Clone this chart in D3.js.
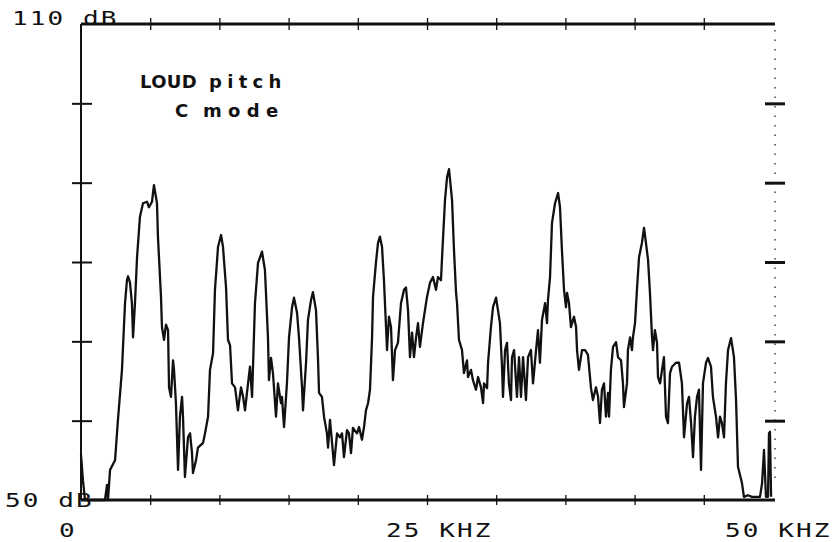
<!DOCTYPE html>
<html>
<head>
<meta charset="utf-8">
<script src="https://cdn.jsdelivr.net/npm/d3@7"></script>
<style>
  html, body { margin: 0; padding: 0; background: #fff; }
  svg { display: block; }
</style>
</head>
<body>
<svg id="chart" width="839" height="542"></svg>
<script>
// ---- data ----
const freqKHz = [0,0.14,0.29,1.73,1.88,1.95,2.10,2.46,2.67,2.96,3.18,3.32,3.40,3.54,3.68,3.76,3.90,4.05,4.26,4.48,4.77,4.91,5.13,5.27,5.49,5.56,5.78,5.85,6.00,6.14,6.29,6.36,6.50,6.65,6.72,6.86,7.01,7.15,7.30,7.37,7.51,7.73,7.88,8.02,8.09,8.31,8.45,8.82,8.96,9.18,9.32,9.54,9.68,9.90,10.12,10.26,10.48,10.62,10.77,10.91,11.13,11.34,11.56,11.71,11.85,12.07,12.21,12.36,12.57,12.79,13.08,13.29,13.51,13.58,13.73,13.87,14.09,14.23,14.45,14.52,14.67,14.88,15.03,15.25,15.39,15.61,15.75,15.97,16.04,16.26,16.40,16.62,16.76,16.98,17.12,17.20,17.41,17.56,17.77,17.85,17.99,18.14,18.28,18.50,18.71,18.86,19.00,19.22,19.36,19.51,19.65,19.94,20.09,20.30,20.45,20.59,20.74,20.88,21.03,21.10,21.31,21.46,21.60,21.75,21.89,22.04,22.11,22.25,22.40,22.54,22.69,22.90,23.12,23.34,23.48,23.63,23.77,23.92,24.06,24.21,24.35,24.49,24.71,25.00,25.22,25.43,25.65,25.79,26.01,26.08,26.30,26.45,26.59,26.81,26.95,27.10,27.17,27.31,27.53,27.67,27.89,27.96,28.18,28.32,28.54,28.69,28.90,29.05,29.12,29.34,29.41,29.62,29.77,29.99,30.13,30.27,30.42,30.49,30.64,30.78,30.92,31.07,31.14,31.29,31.50,31.65,31.79,31.94,32.15,32.30,32.51,32.66,32.88,33.02,33.16,33.31,33.53,33.67,33.74,33.89,34.03,34.25,34.47,34.61,34.75,34.90,35.04,35.12,35.26,35.40,35.62,35.77,35.84,35.98,36.20,36.42,36.63,36.85,36.99,37.21,37.36,37.50,37.64,37.79,37.93,38.08,38.15,38.29,38.44,38.66,38.80,39.02,39.16,39.23,39.45,39.52,39.67,39.81,39.88,40.03,40.17,40.32,40.53,40.68,40.82,40.97,41.11,41.26,41.33,41.47,41.62,41.69,41.84,41.98,42.12,42.27,42.41,42.56,42.70,42.99,43.21,43.42,43.57,43.79,43.93,44.08,44.22,44.36,44.51,44.65,44.80,44.94,45.16,45.30,45.52,45.66,45.88,46.03,46.17,46.31,46.46,46.60,46.75,46.97,47.18,47.33,47.47,47.76,47.90,48.19,48.48,49.06,49.21,49.35,49.49,49.64,49.71,49.78,49.86];
const levelDB = [55.7,52.5,50.0,50.0,51.9,50.0,53.8,55.0,60.1,66.4,74.8,77.7,78.2,77.4,74.8,70.5,74.8,80.6,85.7,87.4,87.6,86.9,87.6,89.7,87.4,83.2,75.6,71.8,70.2,72.1,71.4,64.2,63.0,67.6,66.4,62.2,53.8,60.5,63.0,60.5,52.9,57.9,58.4,55.9,53.4,55.0,56.6,57.2,58.4,60.5,66.4,68.5,76.5,81.9,83.4,81.9,76.8,70.2,69.5,64.7,64.2,61.3,64.2,63.0,61.3,64.7,66.8,63.0,74.8,79.9,81.3,79.0,70.5,65.1,67.9,66.0,60.5,64.7,62.2,63.0,59.2,64.7,70.5,74.3,75.5,73.6,70.5,64.2,61.3,67.3,72.7,75.2,76.2,73.9,68.0,63.5,63.0,60.5,58.4,56.6,60.1,57.2,54.4,58.4,57.9,58.4,55.4,58.8,58.4,55.9,59.1,58.4,59.2,57.6,59.2,61.3,62.2,63.9,70.5,75.6,79.9,82.4,83.2,81.9,77.7,71.8,68.9,73.1,71.8,65.1,68.9,69.8,74.8,76.5,76.8,73.9,68.0,71.1,68.0,70.5,72.3,69.3,72.3,75.6,77.4,78.1,76.5,78.1,77.7,80.3,87.8,90.7,91.7,87.8,81.5,76.1,74.8,70.2,68.9,66.0,67.6,65.5,66.4,65.1,63.9,65.5,64.2,62.2,64.7,64.1,67.3,71.8,74.3,75.5,73.9,72.3,66.8,63.0,68.9,69.8,64.7,62.6,68.0,68.9,63.0,68.0,63.0,68.0,62.6,68.0,68.9,64.7,68.9,71.4,67.3,72.7,74.8,72.3,75.2,78.1,84.9,87.4,88.7,86.9,81.5,76.5,74.3,76.1,74.8,71.8,73.1,71.8,68.9,66.4,68.9,68.9,68.3,64.1,62.6,64.2,63.0,59.7,63.9,64.7,60.5,63.5,60.5,66.4,69.3,69.9,68.0,67.6,64.7,61.7,64.7,68.9,70.5,68.9,70.5,72.3,76.5,80.6,82.4,84.3,82.4,80.3,76.1,70.5,68.9,71.4,69.8,65.5,64.7,66.4,68.0,60.5,59.7,66.0,66.8,67.3,67.3,64.7,57.9,62.2,63.0,59.7,55.4,60.5,63.0,63.9,53.8,64.7,67.3,67.9,66.8,63.0,60.5,57.9,60.5,59.7,57.9,64.7,68.9,70.4,68.0,62.6,54.2,52.1,50.4,50.6,50.4,50.4,52.1,56.3,50.4,50.4,58.4,58.6,50.4];
const xTicks = [0,5,10,15,20,25,30,35,40,45,50];
const yTicks = [60,70,80,90,100];
const titleWords = [["LOUD", "pitch"], ["C", "mode"]];
const yTopLabel = "110 dB";
const yBottomLabel = "50 dB";
const xLabels = [{v:0, t:"0"}, {v:25, t:"25 KHZ"}, {v:50, t:"50 KHZ"}];

// ---- drawing ----
const svg = d3.select("#chart");
const x = d3.scaleLinear().domain([0, 50]).range([81, 773]);
const y = d3.scaleLinear().domain([50, 110]).range([500, 24]);
const ink = "#111";

// bottom axis
const gB = svg.append("g").attr("transform", `translate(0,${y(50)})`)
  .call(d3.axisBottom(x).tickValues(xTicks.slice(1, -1)).tickFormat("").tickSizeOuter(0));
gB.select(".domain").attr("stroke", ink).attr("stroke-width", 3).attr("d", `M${x(0)},0H${x(50)+2}`);
gB.selectAll(".tick line").attr("stroke", ink).attr("stroke-width", 1.3).attr("y1", -5).attr("y2", 5);

// top axis
const gT = svg.append("g").attr("transform", `translate(0,${y(110)})`)
  .call(d3.axisTop(x).tickValues(xTicks.slice(1, -1)).tickFormat("").tickSizeOuter(0));
gT.select(".domain").attr("stroke", ink).attr("stroke-width", 3).attr("d", `M${x(0)},0H${x(50)+2}`);
gT.selectAll(".tick line").attr("stroke", ink).attr("stroke-width", 1.3).attr("y1", -6).attr("y2", 6);

// left axis
const gL = svg.append("g").attr("transform", `translate(${x(0)},0)`)
  .call(d3.axisLeft(y).tickValues(yTicks).tickFormat("").tickSizeOuter(0));
gL.select(".domain").attr("stroke", ink).attr("stroke-width", 2).attr("d", `M0,${y(110)}V${y(50)}`);
gL.selectAll(".tick line").attr("stroke", ink).attr("stroke-width", 2).attr("x1", -9).attr("x2", 11);

// right axis (dotted)
const gR = svg.append("g").attr("transform", `translate(${x(50)+2},0)`)
  .call(d3.axisRight(y).tickValues(yTicks).tickFormat("").tickSizeOuter(0));
gR.select(".domain").attr("stroke", "#333").attr("stroke-width", 1.4)
  .attr("stroke-dasharray", "1.5,8").attr("d", `M0,${y(110)+6}V${y(50)-20}`);
gR.selectAll(".tick line").attr("stroke", ink).attr("stroke-width", 3).attr("x1", -10).attr("x2", 10);

// spectrum trace
const pts = freqKHz.map((f, i) => [f, levelDB[i]]);
svg.append("path")
  .datum(pts)
  .attr("fill", "none")
  .attr("stroke", ink)
  .attr("stroke-width", 2.3)
  .attr("stroke-linejoin", "round")
  .attr("d", d3.line().x(d => x(d[0])).y(d => y(d[1])));

// axis text (plotter style: wide monospaced glyphs)
const monoFont = "'DejaVu Sans Mono', 'Liberation Mono', monospace";
function plotText(px, py, t) {
  svg.append("text").attr("transform", `translate(${px},${py}) scale(1.3,1)`).text(t)
    .attr("font-family", monoFont).attr("font-size", 20)
    .attr("letter-spacing", 1.6).attr("fill", ink);
}
plotText(12, y(110) + 1, yTopLabel);
plotText(5, y(50) + 7, yBottomLabel);
plotText(x(xLabels[0].v) - 22, 537, xLabels[0].t);
plotText(x(xLabels[1].v) - 41, 537, xLabels[1].t);
plotText(x(xLabels[2].v) - 48, 537, xLabels[2].t);

// annotation
const wordX = [[140, 209], [175, 203]];
const wordLS = [[0.3, 5.3], [0, 6.3]];
titleWords.forEach((words, i) => {
  const t = svg.append("text").attr("y", 88 + i * 29)
    .attr("font-family", "'DejaVu Sans', Arial, sans-serif")
    .attr("font-weight", "bold").attr("font-size", 18).attr("fill", ink);
  words.forEach((w, j) => {
    t.append("tspan").attr("x", wordX[i][j]).attr("letter-spacing", wordLS[i][j]).text(w);
  });
});
</script>
</body>
</html>
